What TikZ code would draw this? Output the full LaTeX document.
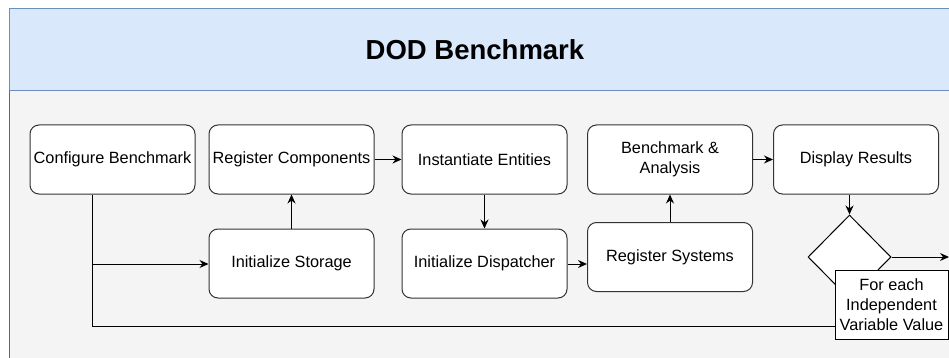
\documentclass[tikz,border=0pt]{standalone}
\usepackage{fontspec}
\setmainfont{Liberation Sans}
\usetikzlibrary{shapes.geometric,arrows.meta}
\definecolor{hdrfill}{HTML}{DAE8FC}
\definecolor{hdrline}{HTML}{6C8EBF}
\definecolor{bodyfill}{HTML}{F4F4F4}
\definecolor{bodyline}{HTML}{666666}
\definecolor{boxline}{HTML}{333333}
\tikzset{
  stepbox/.style={draw=boxline, fill=white, line width=1pt, rounded corners=9pt,
    minimum width=165pt, minimum height=69pt, inner sep=1pt, align=center,
    font=\fontsize{16.3}{19.5}\selectfont},
  conn/.style={draw=black, line width=1pt, -{Stealth[length=9pt,width=8pt]}},
  plainconn/.style={draw=black, line width=1pt},
}
\begin{document}
\begin{tikzpicture}[x=1pt,y=-1pt]
\useasboundingbox (0,0) rectangle (949,358);
\begin{scope}
\clip (0,0) rectangle (949,358);
\path[fill=bodyfill, draw=bodyline, line width=1pt] (9.5,91) rectangle (970,380);
\path[fill=hdrfill, draw=hdrline, line width=1pt] (9.5,9) rectangle (970,91);
\node[font=\bfseries\fontsize{27.5}{32}\selectfont] (title) at (475,50) {DOD Benchmark};

\node[stepbox] (cfg) at (112.5,159.5) {Configure Benchmark};
\node[stepbox] (regc) at (291.5,159.5) {Register Components};
\node[stepbox] (stor) at (291.5,263.5) {Initialize Storage};
\node[stepbox] (inst) at (484.5,159.5) {Instantiate Entities};
\node[stepbox] (disp) at (484.5,263.5) {Initialize Dispatcher};
\node[stepbox] (bench) at (670,159.5) {Benchmark \&\\Analysis};
\node[stepbox] (regs) at (670,257) {Register Systems};
\node[stepbox] (show) at (856,159.5) {Display Results};
\node[diamond, draw=black, fill=white, line width=1pt, minimum width=83pt,
  minimum height=84pt, inner sep=0pt] (dec) at (849.5,257) {};
\coordinate (rightend) at (949,257);
\coordinate (junc) at (92,264);
\coordinate (loop) at (92,326);

\draw[conn] (regc.east) -- (inst.west);
\draw[conn] (stor.north) -- (regc.south);
\draw[conn] (inst.south) -- (disp.north);
\draw[conn] (disp.east |- junc) -- (regs.west |- junc);
\draw[conn] (regs.north) -- (bench.south);
\draw[conn] (bench.east) -- (show.west);
\draw[conn] (show.south -| dec.north) -- (dec.north);
\draw[conn] (dec.east) -- (rightend);
\draw[conn] (junc) -- (stor.west |- junc);
\draw[plainconn] (cfg.south -| junc) -- (loop);

\node[draw=black, fill=white, line width=0.8pt, minimum width=113pt, minimum height=69pt,
  align=center, inner sep=1pt, font=\fontsize{16.3}{20}\selectfont] (lab) at (891.5,304.5)
  {For each\\Independent\\Variable Value};
\draw[plainconn] (loop) -- (loop -| lab.west);
\end{scope}
\end{tikzpicture}
\end{document}
